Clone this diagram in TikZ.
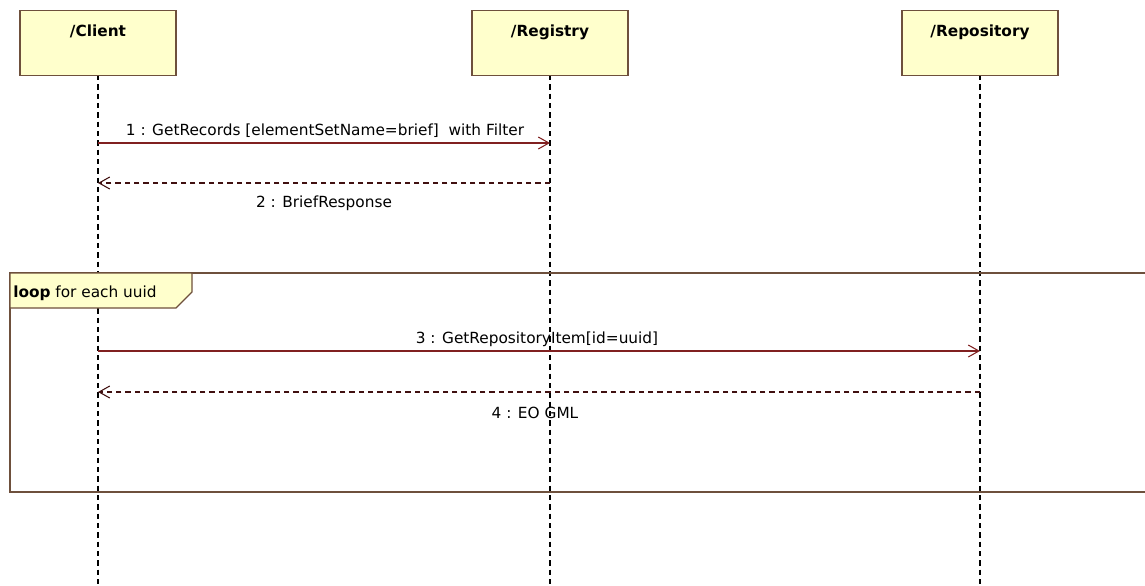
\documentclass[tikz,border=0pt]{standalone}
\usepackage{fontspec}
\setmainfont{DejaVu Sans}
\usepackage{tikz}
\usetikzlibrary{positioning,arrows.meta,calc}

\definecolor{umlfill}{RGB}{255,255,204}
\definecolor{umledge}{RGB}{110,80,60}
\definecolor{msgred}{RGB}{128,32,32}

\tikzset{
  headbox/.style={draw=umledge, fill=umlfill, line width=1pt, minimum width=117pt,
    inner sep=0pt, anchor=north, font=\fontsize{11.5}{13}\selectfont\bfseries,
    text height=19.5pt, text depth=29.25pt},
  lifeline/.style={dash pattern=on 4pt off 3pt, line width=0.9pt, black},
  call/.style={msgred, line width=0.8pt, -{Straight Barb[length=8pt,width=9pt]}},
  reply/.style={msgred!50!black, line width=0.8pt, dash pattern=on 4pt off 3pt,
    -{Straight Barb[length=8pt,width=9pt]}},
  msglabel/.style={font=\fontsize{11.5}{13}\selectfont, inner sep=0pt, anchor=base},
  framebox/.style={draw=umledge, line width=1pt}
}

\begin{document}
\begin{tikzpicture}[x=0.75pt,y=-0.75pt]
  \clip (0,0) rectangle (1145,585);

  % lifelines
  \coordinate (clientend) at (98,590);
  \coordinate (registryend) at (550,590);
  \coordinate (repositoryend) at (980,590);
  \draw[lifeline] (98,75) -- (clientend);
  \draw[lifeline] (550,75) -- (registryend);
  \draw[lifeline] (980,75) -- (repositoryend);

  % heads
  \node[headbox] (client) at (98,10) {/Client};
  \node[headbox] (registry) at (550,10) {/Registry};
  \node[headbox] (repository) at (980,10) {/Repository};

  % loop frame
  \draw[framebox] (1160,273) -- (10,273) -- (10,492) -- (1160,492);
  \draw[framebox, fill=umlfill] (10,273) -- (192,273) -- (192,292) -- (176,308) -- (10,308) -- cycle;
  \node[msglabel, anchor=base west] (looplabel) at (13,297) {\textbf{loop} for each uuid};

  % messages
  \coordinate (m1a) at (client.south |- 0,143);   \coordinate (m1b) at (registry.south |- 0,143);
  \coordinate (m2a) at (registry.south |- 0,183); \coordinate (m2b) at (client.south |- 0,183);
  \coordinate (m3a) at (client.south |- 0,351);   \coordinate (m3b) at (repository.south |- 0,351);
  \coordinate (m4a) at (repository.south |- 0,392); \coordinate (m4b) at (client.south |- 0,392);

  \draw[call] (m1a) -- (m1b);
  \draw[reply] (m2a) -- (m2b);
  \draw[call] (m3a) -- (m3b);
  \draw[reply] (m4a) -- (m4b);

  \node[msglabel] (msg1) at (325,135) {1 : GetRecords [elementSetName=brief]\ \ with Filter};
  \node[msglabel] (msg2) at (324,207) {2 : BriefResponse};
  \node[msglabel] (msg3) at (537,343) {3 : GetRepositoryItem[id=uuid]};
  \node[msglabel] (msg4) at (535,418) {4 : EO GML};
\end{tikzpicture}
\end{document}
